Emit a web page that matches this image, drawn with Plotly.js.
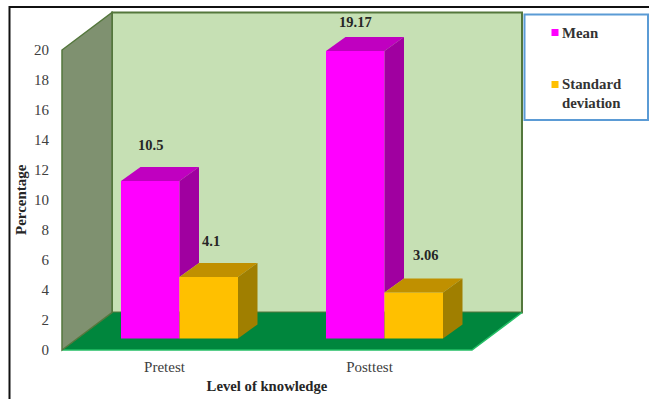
<!DOCTYPE html>
<html>
<head>
<meta charset="utf-8">
<script src="https://cdn.plot.ly/plotly-3.0.1.min.js"></script>
<style>html,body{margin:0;padding:0;background:#fff}#chart{width:649px;height:399px}</style>
</head>
<body>
<div id="chart"></div>
<script>
// Knowledge scores before and after the programme
const categories = ['Pretest', 'Posttest'];
const meanValues = [10.5, 19.17];
const sdValues = [4.1, 3.06];
const seriesNames = ['Mean', 'Standard<br>deviation'];
const yTicks = [0, 2, 4, 6, 8, 10, 12, 14, 16, 18, 20];

// Pixel offsets of each value label from the top of its bar
const meanLabelShift = [[0, 36], [0, 29]];
const sdLabelShift = [[2, 36], [12, 38]];

const colors = {
  mean: '#FF00FF', meanTop: '#C000C0', meanSide: '#A000A0',
  sd: '#FFC000', sdTop: '#C09000', sdSide: '#A07F00',
  wall: '#C6E0B4', wallEdge: '#54773C', sideWall: '#7F9170',
  floor: '#00863D', floorEdge: '#25BE66', box: '#5B9BD5'
};

// Plot rectangle: the front plane of the 3-D box, with headroom above 20
const W = 649, H = 399;
const M = {l: 62, r: 177, t: 30, b: 49};
const plotW = W - M.l - M.r, plotH = H - M.t - M.b;
const pxPerX = plotW / 2, pxPerY = 15;
const yMax = plotH / pxPerY;

// Oblique projection offsets, in axis units
const boxDx = 50 / pxPerX, boxDy = 37.5 / pxPerY;
const barDx = 19.5 / pxPerX, barDy = 14 / pxPerY;
const barW = 58.5 / pxPerX;
const barBase = 11.5 / pxPerY;
const groupShift = 15 / pxPerX;

const px = x => (x + 0.5) / 2;
const py = y => y / yMax;
const xs = categories.map((_, i) => i);

function wallPath(pts, closed) {
  return 'M' + pts.map(p => px(p[0]) + ',' + py(p[1])).join('L') + (closed ? 'Z' : '');
}
function wall(pts, fill, edge, width) {
  return {type: 'path', xref: 'paper', yref: 'paper', layer: 'below',
          path: wallPath(pts, true), fillcolor: fill, line: {color: edge, width: width}};
}
function edge(pts, color, width) {
  return {type: 'path', xref: 'paper', yref: 'paper', layer: 'below',
          path: wallPath(pts, false), line: {color: color, width: width}};
}
function rule(x0, y0, x1, y1) {
  return {type: 'line', xref: 'paper', yref: 'paper', x0: (x0 - M.l) / plotW, x1: (x1 - M.l) / plotW,
          y0: (H - M.b - y0) / plotH, y1: (H - M.b - y1) / plotH, line: {color: '#111', width: 2}};
}
function paperRect(x0, y0, x1, y1, fill, edgeColor, width) {
  return {type: 'rect', xref: 'paper', yref: 'paper', x0: (x0 - M.l) / plotW, x1: (x1 - M.l) / plotW,
          y0: (H - M.b - y0) / plotH, y1: (H - M.b - y1) / plotH, fillcolor: fill,
          line: {color: edgeColor, width: width}};
}

const L = -0.5, R = 1.5;
const shapes = [
  wall([[L + boxDx, boxDy], [R + boxDx, boxDy], [R + boxDx, 20 + boxDy], [L + boxDx, 20 + boxDy]], colors.wall, colors.wallEdge, 2),
  wall([[L, 0], [R, 0], [R + boxDx, boxDy], [L + boxDx, boxDy]], colors.floor, colors.floor, 0),
  edge([[L, 0], [R, 0], [R + boxDx, boxDy]], colors.floorEdge, 1.5),
  wall([[L, 0], [L + boxDx, boxDy], [L + boxDx, 20 + boxDy], [L, 20]], colors.sideWall, colors.wallEdge, 1.5),
  rule(9.5, 7, 649, 7),
  rule(9.5, 6, 9.5, 399),
  paperRect(524.5, 14.5, 648, 120, '#FFFFFF', colors.box, 2),
  paperRect(551.5, 29, 558.5, 36, colors.mean, colors.mean, 0),
  paperRect(551.5, 81, 558.5, 88, colors.sd, colors.sd, 0)
];

// Front faces of the bars
function barTrace(values, name, color, offset) {
  return {type: 'bar', x: xs, y: values, base: values.map(() => barBase), name: name,
          width: barW, offset: offset, marker: {color: color, line: {width: 0}},
          hoverinfo: 'x+y', showlegend: false};
}

// Top and side faces are filled polygons in axis coordinates
function poly(pts, color) {
  return {type: 'scatter', mode: 'lines', x: pts.map(p => p[0]), y: pts.map(p => p[1]),
          fill: 'toself', fillcolor: color, line: {width: 0, color: color},
          cliponaxis: false, hoverinfo: 'skip', showlegend: false};
}
const faces = [];
xs.forEach((x, i) => {
  const mLeft = x + groupShift - barW, mRight = x + groupShift, sRight = mRight + barW;
  const mTop = barBase + meanValues[i], sTop = barBase + sdValues[i];
  // Mean: the lower part of its side is hidden behind the neighbouring bar
  faces.push(poly([[mLeft, mTop], [mLeft + barDx, mTop + barDy], [mRight + barDx, mTop + barDy], [mRight, mTop]], colors.meanTop));
  faces.push(poly([[mRight, mTop], [mRight + barDx, mTop + barDy], [mRight + barDx, sTop + barDy], [mRight, sTop]], colors.meanSide));
  // Standard deviation
  faces.push(poly([[mRight, sTop], [mRight + barDx, sTop + barDy], [sRight + barDx, sTop + barDy], [sRight, sTop]], colors.sdTop));
  faces.push(poly([[sRight, sTop], [sRight + barDx, sTop + barDy], [sRight + barDx, barBase + barDy], [sRight, barBase]], colors.sdSide));
});

const serif = '"Liberation Serif", "Times New Roman", serif';
const labelFont = {family: serif, size: 14.5, color: '#262626'};
const annotations = [];
xs.forEach((x, i) => {
  annotations.push({x: x + groupShift - barW / 2, y: barBase + meanValues[i], text: '<b>' + meanValues[i] + '</b>',
    showarrow: false, xanchor: 'center', yanchor: 'middle', xshift: meanLabelShift[i][0], yshift: meanLabelShift[i][1], font: labelFont});
  annotations.push({x: x + groupShift + barW / 2, y: barBase + sdValues[i], text: '<b>' + sdValues[i] + '</b>',
    showarrow: false, xanchor: 'center', yanchor: 'middle', xshift: sdLabelShift[i][0], yshift: sdLabelShift[i][1], font: labelFont});
});
// Legend text
const legendFont = {family: serif, size: 14.8, color: '#333333'};
annotations.push({xref: 'paper', yref: 'paper', x: (560 - M.l) / plotW, y: (H - M.b - 33) / plotH, text: '<b>' + seriesNames[0] + '</b>',
  showarrow: false, xanchor: 'left', yanchor: 'middle', align: 'left', font: legendFont});
annotations.push({xref: 'paper', yref: 'paper', x: (560 - M.l) / plotW, y: (H - M.b - 93.5) / plotH, text: '<b>' + seriesNames[1] + '</b>',
  showarrow: false, xanchor: 'left', yanchor: 'middle', align: 'left', font: legendFont});
// Value-axis title, centred on the 0-20 span rather than the taller plot rectangle
annotations.push({xref: 'paper', yref: 'paper', x: (21 - M.l) / plotW, y: py(10), text: '<b>Percentage</b>',
  textangle: -90, showarrow: false, xanchor: 'center', yanchor: 'middle', font: {family: serif, size: 15, color: '#262626'}});

const traces = [
  barTrace(meanValues, 'Mean', colors.mean, groupShift - barW),
  barTrace(sdValues, 'Standard deviation', colors.sd, groupShift)
].concat(faces);

const layout = {
  width: W, height: H, autosize: false, showlegend: false,
  margin: M, paper_bgcolor: '#FFFFFF', plot_bgcolor: 'rgba(0,0,0,0)',
  barmode: 'overlay', shapes: shapes, annotations: annotations,
  xaxis: {
    type: 'linear', range: [L, R], tickvals: xs, ticktext: categories,
    showgrid: false, zeroline: false, showline: false,
    ticks: 'outside', ticklen: 3, tickcolor: 'rgba(0,0,0,0)',
    tickfont: {family: serif, size: 15, color: '#404040'},
    title: {text: '<b>Level of knowledge</b>', standoff: 6, font: {family: serif, size: 14.7, color: '#262626'}}
  },
  yaxis: {
    range: [0, yMax], tickvals: yTicks, showgrid: false, zeroline: false, showline: false,
    ticks: 'outside', ticklen: 9, tickcolor: 'rgba(0,0,0,0)',
    tickfont: {family: serif, size: 15, color: '#404040'}
  }
};

Plotly.newPlot('chart', traces, layout, {displayModeBar: false, responsive: false});
</script>
</body>
</html>
